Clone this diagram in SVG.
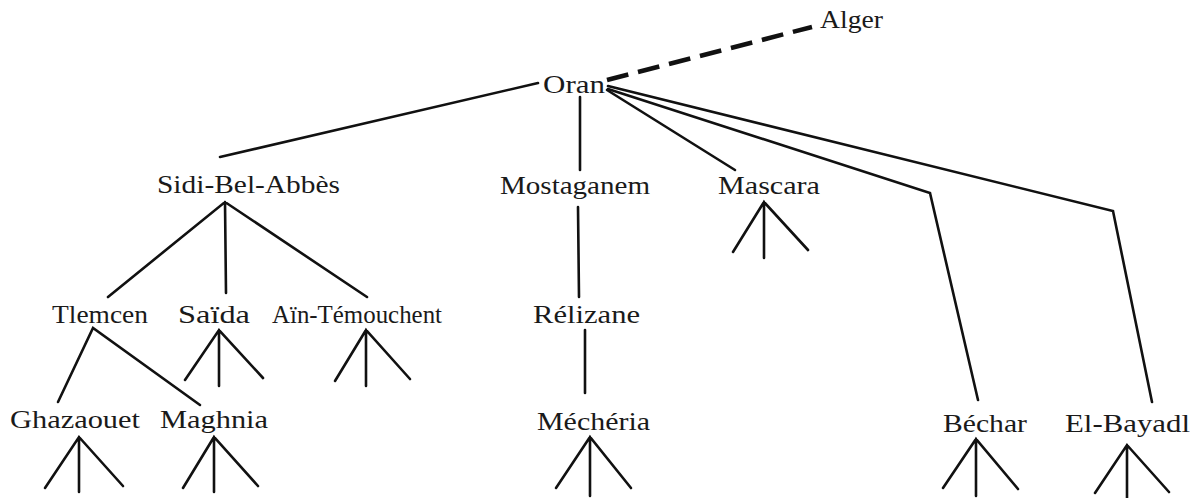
<svg xmlns="http://www.w3.org/2000/svg" width="1202" height="498" viewBox="0 0 1202 498">
<style>
text{font-family:"Liberation Serif","Times New Roman",serif;font-size:26px;fill:#1a1a1a}
.l{stroke:#111;stroke-width:2.6;fill:none;stroke-linecap:round;stroke-linejoin:miter}
.d{stroke:#111;stroke-width:4.5;fill:none;stroke-dasharray:22 10}
</style>
<rect width="1202" height="498" fill="#fff"/>
<g id="connectors">
<line class="d" x1="607" y1="80" x2="812" y2="27"/>
<line class="l" x1="220" y1="157" x2="538" y2="83"/>
<line class="l" x1="580" y1="97" x2="580" y2="170"/>
<line class="l" x1="607" y1="90" x2="735" y2="170"/>
<polyline class="l" points="608,89 930,193 978,400"/>
<polyline class="l" points="608,86 1113,211 1152,402"/>
<path class="l" d="M108,297 L225,202 L367,297 M225,202 L226,293"/>
<path class="l" d="M58,402 L93,328 L200,405"/>
<path class="l" d="M185,380 L219,330 L263,378 M219,330 L219,386"/>
<path class="l" d="M335,381 L366,330 L410,379 M366,330 L366,386"/>
<line class="l" x1="578" y1="207" x2="579" y2="297"/>
<line class="l" x1="585" y1="330" x2="585" y2="393"/>
<path class="l" d="M733,252 L764,202 L808,250 M764,202 L764,258"/>
<path class="l" d="M45,488 L79,437 L123,486 M79,437 L79,492"/>
<path class="l" d="M183,488 L214,437 L258,486 M214,437 L214,492"/>
<path class="l" d="M556,488 L590,437 L631,488 M590,437 L590,496"/>
<path class="l" d="M943,488 L976,439 L1018,489 M976,439 L976,496"/>
<path class="l" d="M1095,493 L1127,445 L1169,492 M1127,445 L1127,498"/>
</g>
<g id="n-alger"><text x="820" y="28" textLength="63" lengthAdjust="spacingAndGlyphs">Alger</text></g>
<g id="n-oran"><text x="543" y="93" textLength="62" lengthAdjust="spacingAndGlyphs">Oran</text></g>
<g id="n-sidi"><text x="157" y="193" textLength="183" lengthAdjust="spacingAndGlyphs">Sidi-Bel-Abbès</text></g>
<g id="n-mostaganem"><text x="500" y="194" textLength="150" lengthAdjust="spacingAndGlyphs">Mostaganem</text></g>
<g id="n-mascara"><text x="718" y="194" textLength="102" lengthAdjust="spacingAndGlyphs">Mascara</text></g>
<g id="n-tlemcen"><text x="52" y="323" textLength="96" lengthAdjust="spacingAndGlyphs">Tlemcen</text></g>
<g id="n-saida"><text x="178" y="323" textLength="72" lengthAdjust="spacingAndGlyphs">Saïda</text></g>
<g id="n-ain"><text x="272" y="323" textLength="170" lengthAdjust="spacingAndGlyphs">Aïn-Témouchent</text></g>
<g id="n-relizane"><text x="533" y="323" textLength="107" lengthAdjust="spacingAndGlyphs">Rélizane</text></g>
<g id="n-ghazaouet"><text x="10" y="428" textLength="130" lengthAdjust="spacingAndGlyphs">Ghazaouet</text></g>
<g id="n-maghnia"><text x="160" y="428" textLength="108" lengthAdjust="spacingAndGlyphs">Maghnia</text></g>
<g id="n-mecheria"><text x="537" y="430" textLength="113" lengthAdjust="spacingAndGlyphs">Méchéria</text></g>
<g id="n-bechar"><text x="943" y="432" textLength="84" lengthAdjust="spacingAndGlyphs">Béchar</text></g>
<g id="n-elbayadl"><text x="1065" y="432" textLength="125" lengthAdjust="spacingAndGlyphs">El-Bayadl</text></g>
</svg>
